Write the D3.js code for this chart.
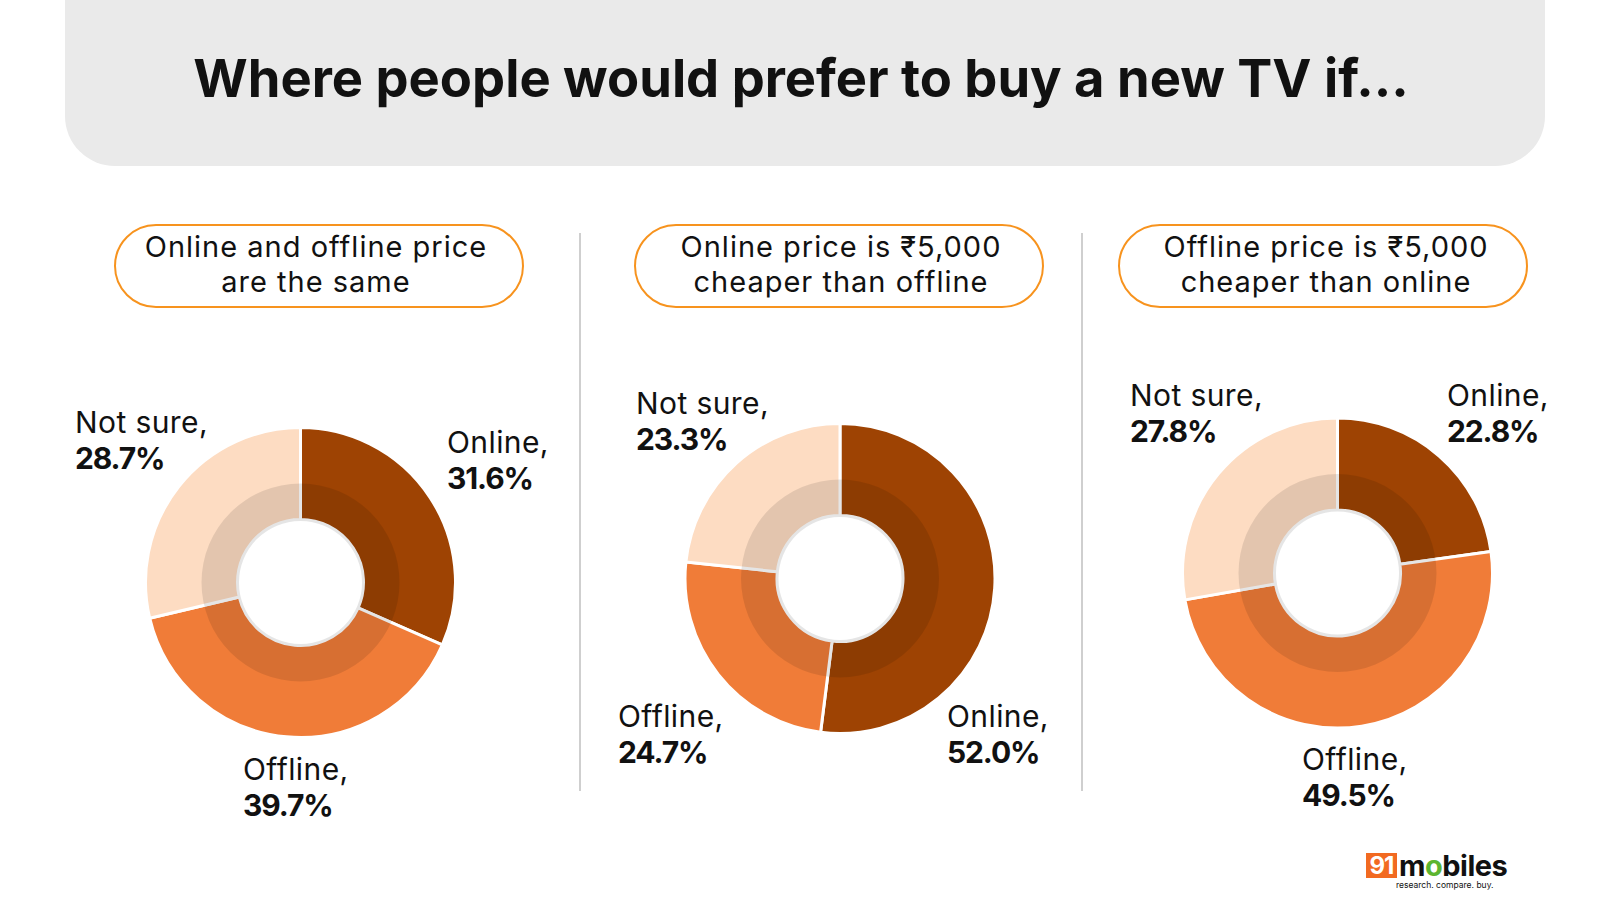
<html>
<head>
  <meta charset="utf-8">
  <title>Where people would prefer to buy a new TV</title>
  <script src="https://d3js.org/d3.v7.min.js"></script>
  <style>
    body { margin: 0; background: #ffffff; }
    text { font-family: Inter, "Noto Sans", sans-serif; fill: #111; }
  </style>
</head>
<body>
  <svg id="chart" width="1600" height="900" viewBox="0 0 1600 900"></svg>
  <script>
    // data
    var categories = ["Online", "Offline", "Not sure"];
    var scenarios = [
      ["Online and offline price", "are the same"],
      ["Online price is \u20B95,000", "cheaper than offline"],
      ["Offline price is \u20B95,000", "cheaper than online"]
    ];
    var sameValues = [31.6, 39.7, 28.7];
    var onlineCheaperValues = [52.0, 24.7, 23.3];
    var offlineCheaperValues = [22.8, 49.5, 27.8];
    var seriesValues = [sameValues, onlineCheaperValues, offlineCheaperValues];

    var colors = d3.scaleOrdinal()
      .domain(categories)
      .range(["#9e4303", "#f07c38", "#fddcc2"]);

    // layout: donut centres, pill boxes and label anchors (left x, first baseline)
    var panels = [
      { cx: 300.5, cy: 582.5, pill: 319, text: 316,
        labels: [[447, 453], [243, 780], [75, 433]] },
      { cx: 840, cy: 578.5, pill: 839, text: 841,
        labels: [[947, 727], [618, 727], [636, 414]] },
      { cx: 1337.5, cy: 573, pill: 1323, text: 1326,
        labels: [[1447, 406], [1302, 770], [1130, 406]] }
    ];

    var svg = d3.select("#chart");

    // header
    svg.append("rect")
      .attr("x", 65).attr("y", -60)
      .attr("width", 1480).attr("height", 226)
      .attr("rx", 50)
      .attr("fill", "#eaeaea");

    svg.append("text")
      .attr("x", 801).attr("y", 97)
      .attr("text-anchor", "middle")
      .style("font-size", "52.5px")
      .style("font-weight", 700)
      .text("Where people would prefer to buy a new TV if...");

    // dividers
    [580, 1082].forEach(function (x) {
      svg.append("line")
        .attr("x1", x).attr("x2", x)
        .attr("y1", 233).attr("y2", 791)
        .attr("stroke", "#cfcfcf")
        .attr("stroke-width", 2);
    });

    var pie = d3.pie().sort(null).value(function (d) { return d; });
    var arc = d3.arc().innerRadius(63).outerRadius(155);
    var shade = d3.arc().innerRadius(61.5).outerRadius(99).startAngle(0).endAngle(2 * Math.PI);

    panels.forEach(function (p, i) {
      // scenario pill
      svg.append("rect")
        .attr("x", p.pill - 204).attr("y", 225)
        .attr("width", 408).attr("height", 82)
        .attr("rx", 41)
        .attr("fill", "none")
        .attr("stroke", "#f7931e")
        .attr("stroke-width", 2);

      svg.append("text")
        .attr("x", p.text).attr("y", 257)
        .attr("text-anchor", "middle")
        .style("font-size", "29px")
        .style("letter-spacing", "1px")
        .selectAll("tspan")
        .data(scenarios[i])
        .join("tspan")
        .attr("x", p.text)
        .attr("dy", function (d, j) { return j ? 35 : 0; })
        .text(function (d) { return d; });

      var g = svg.append("g")
        .attr("transform", "translate(" + p.cx + "," + p.cy + ")");

      g.selectAll("path.slice")
        .data(pie(seriesValues[i]))
        .join("path")
        .attr("class", "slice")
        .attr("d", arc)
        .attr("fill", function (d, j) { return colors(categories[j]); })
        .attr("stroke", "#fff")
        .attr("stroke-width", 3);

      g.append("path")
        .attr("d", shade())
        .attr("fill", "#000")
        .attr("fill-opacity", 0.1);

      // labels
      seriesValues[i].forEach(function (v, j) {
        var t = svg.append("text")
          .attr("x", p.labels[j][0]).attr("y", p.labels[j][1])
          .style("font-size", "30px");
        t.append("tspan")
          .style("letter-spacing", "0.4px")
          .text(categories[j] + ",");
        t.append("tspan")
          .attr("x", p.labels[j][0]).attr("dy", 36)
          .style("font-weight", 700)
          .style("letter-spacing", "-1.1px")
          .text(d3.format(".1f")(v) + "%");
      });
    });

    // logo
    var logo = svg.append("g").attr("transform", "translate(1366,853)");
    logo.append("rect")
      .attr("width", 31).attr("height", 25)
      .attr("fill", "#f26a21");
    logo.append("text")
      .attr("x", 15.5).attr("y", 21)
      .attr("text-anchor", "middle")
      .style("font-size", "24px").style("font-weight", 700)
      .style("fill", "#fff")
      .style("letter-spacing", "-1px")
      .text("91");
    var brand = logo.append("text")
      .attr("x", 33).attr("y", 23)
      .style("font-size", "29px").style("font-weight", 700)
      .style("letter-spacing", "-0.5px");
    brand.append("tspan").text("m");
    brand.append("tspan").style("fill", "#5cb531").text("o");
    brand.append("tspan").text("biles");
    logo.append("text")
      .attr("x", 30).attr("y", 35)
      .style("font-size", "8.5px")
      .text("research. compare. buy.");
  </script>
</body>
</html>
